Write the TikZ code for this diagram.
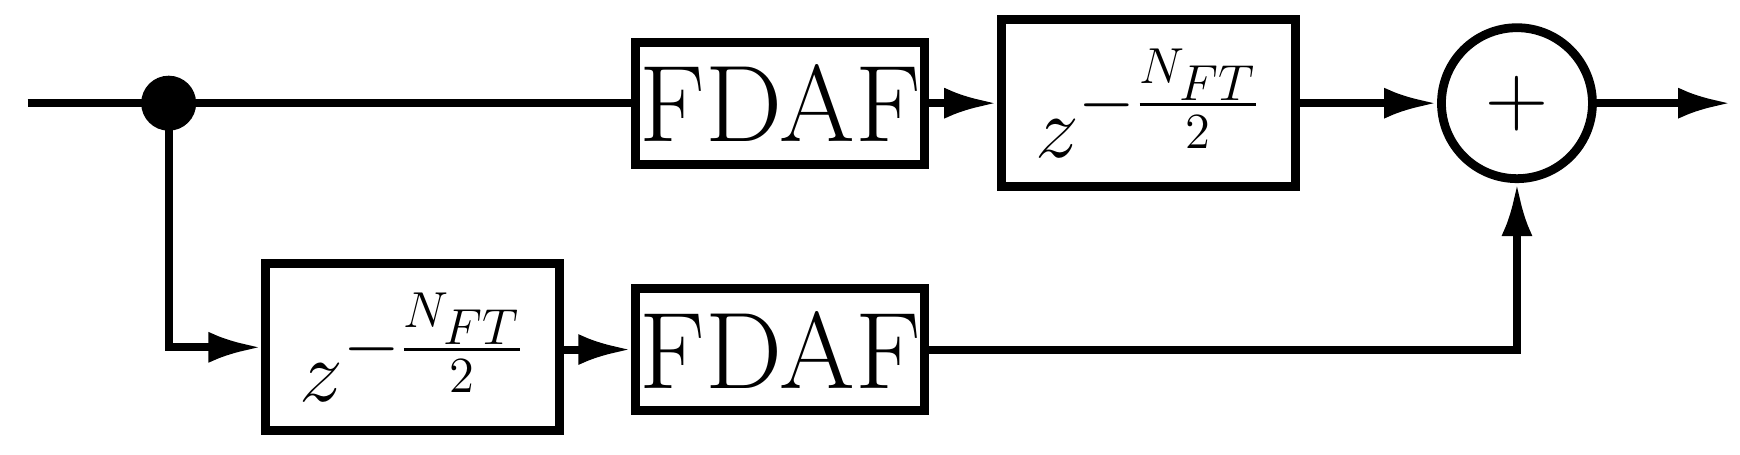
\documentclass[tikz,border=0pt]{standalone}
\usepackage{amsmath, amssymb}
\usetikzlibrary{arrows.meta}
\begin{document}
\begin{tikzpicture}[x=1.11cm, y=-1.11cm, line width=2.3pt, font=\fontsize{31}{36}\selectfont,
  >={Latex[length=5.3mm,width=3.1mm]}]
\tikzstyle{block}=[draw, rectangle, inner sep=0pt, line width=2.5pt]
\coordinate (in) at (0.25,0.93);
\node [circle, fill=black, minimum size=0.55cm, inner sep=0pt] (dot) at (1.52,0.93) {};
\node [block, minimum width=2.89cm, minimum height=1.22cm] (fdaf1) at (7.03,0.93) {FDAF};
\node [block, minimum width=2.94cm, minimum height=1.67cm] (del1) at (10.35,0.93) {$z^{-\frac{N_{FT}}{2}}$};
\node [draw, circle, minimum size=1.51cm, inner sep=0pt, line width=2.5pt] (sum) at (13.67,0.93) {$+$};
\coordinate (out) at (15.6,0.93);
\node [block, minimum width=2.94cm, minimum height=1.67cm] (del2) at (3.72,3.13) {$z^{-\frac{N_{FT}}{2}}$};
\node [block, minimum width=2.89cm, minimum height=1.22cm] (fdaf2) at (7.03,3.15) {FDAF};
% upper path
\draw (in) -- (dot.center) -- (fdaf1);
\draw [->] (fdaf1) -- (del1);
\draw [->] (del1) -- (sum);
\draw [->] (sum) -- (out);
% lower path
\draw [->] (dot.center) |- (del2);
\draw [->] (del2.east |- fdaf2) -- (fdaf2);
\draw [->] (fdaf2) -| (sum);
\pgfresetboundingbox
\path [use as bounding box] (0,0) rectangle (15.68,4.1);
\end{tikzpicture}
\end{document}
